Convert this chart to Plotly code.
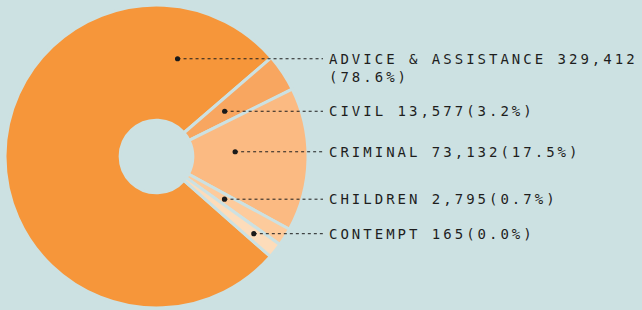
import math
import plotly.graph_objects as go

# ---- data ----
categories = ["ADVICE & ASSISTANCE", "CIVIL", "CRIMINAL", "CHILDREN", "CONTEMPT"]
counts = [329412, 13577, 73132, 2795, 165]
percent_labels = ["78.6%", "3.2%", "17.5%", "0.7%", "0.0%"]
# slice sizes as drawn in the original graphic (small slices were enlarged there), in %
slice_share_drawn = [77.2, 4.0, 15.3, 1.9, 1.6]

# ---- style ----
BG = "#CCE1E2"
colors = ["#F6963A", "#F8A660", "#FBBA82", "#FDCB9C", "#FDDCBA"]
TEXT = "#1e1e1e"
W, H = 642, 310
ML, MR, MT, MB = 5, 0, 5, 2
plot_w = W - ML - MR
plot_h = H - MT - MB
R = plot_h / 2.0
cx = ML + R
cy = MT + R
ROT = 131.3  # start angle (deg clockwise from 12 o'clock) of first slice
leader_rfrac = [0.66, 0.54, 0.52, 0.53, 0.82]
leader_angle_from_mid = [101.9, 0.0, -4.6, 0.0, 0.0]
label_x = 327
line_end_x = 323
DOT_R = 2.6

fig = go.Figure()
fig.add_trace(go.Pie(
    labels=categories,
    values=slice_share_drawn,
    sort=False,
    direction="clockwise",
    rotation=ROT,
    hole=0.24,
    marker=dict(colors=colors, line=dict(color=BG, width=3)),
    textinfo="none",
    hoverinfo="skip",
    showlegend=False,
    domain=dict(x=[0, plot_h / plot_w], y=[0, 1]),
))
# invisible trace to establish pixel-like cartesian axes for leader shapes
fig.add_trace(go.Scatter(x=[ML, W - MR], y=[MT, H - MB], mode="markers",
                         marker=dict(opacity=0), hoverinfo="skip", showlegend=False))

# compute leader anchor points from the slice geometry
total = sum(slice_share_drawn)
start = ROT
dots_x, dots_y = [], []
for i, s in enumerate(slice_share_drawn):
    span = s / total * 360.0
    ang = start + span / 2.0 + leader_angle_from_mid[i]
    start += span
    r = leader_rfrac[i] * R
    a = math.radians(ang)
    dots_x.append(cx + r * math.sin(a))
    dots_y.append(cy - r * math.cos(a))

for x0, y0 in zip(dots_x, dots_y):
    fig.add_shape(type="line", xref="x", yref="y", x0=x0, x1=line_end_x,
                  y0=y0, y1=y0, layer="above",
                  line=dict(color=TEXT, width=1, dash="dot"))
    fig.add_shape(type="circle", xref="x", yref="y",
                  x0=x0 - DOT_R, x1=x0 + DOT_R, y0=y0 - DOT_R, y1=y0 + DOT_R,
                  layer="above", fillcolor="#1a1a1a", line=dict(width=0))

SP = '<span style="letter-spacing:3px">{}</span>'
for i, (cat, n, p) in enumerate(zip(categories, counts, percent_labels)):
    name = cat.replace("&", "&amp;")
    if i == 0:
        txt = SP.format(f"{name} {n:,}") + "<br>" + SP.format(f"({p})")
        fig.add_annotation(x=label_x, y=dots_y[i], xref="x", yref="y",
                           text=txt, showarrow=False, xanchor="left",
                           yanchor="top", align="left", yshift=10)
    else:
        txt = SP.format(f"{name} {n:,}({p})")
        fig.add_annotation(x=label_x, y=dots_y[i], xref="x", yref="y",
                           text=txt, showarrow=False, xanchor="left",
                           yanchor="middle", align="left")

fig.update_layout(
    width=W, height=H,
    margin=dict(l=ML, r=MR, t=MT, b=MB),
    paper_bgcolor=BG, plot_bgcolor=BG,
    font=dict(family="DejaVu Sans Mono", size=14, color=TEXT),
    xaxis=dict(range=[ML, W - MR], visible=False, fixedrange=True),
    yaxis=dict(range=[H - MB, MT], visible=False, fixedrange=True),
    showlegend=False,
)

fig.write_html("out.html",
               config={"displayModeBar": False},
               post_script="document.body.style.margin='0';document.body.style.overflow='hidden';")
